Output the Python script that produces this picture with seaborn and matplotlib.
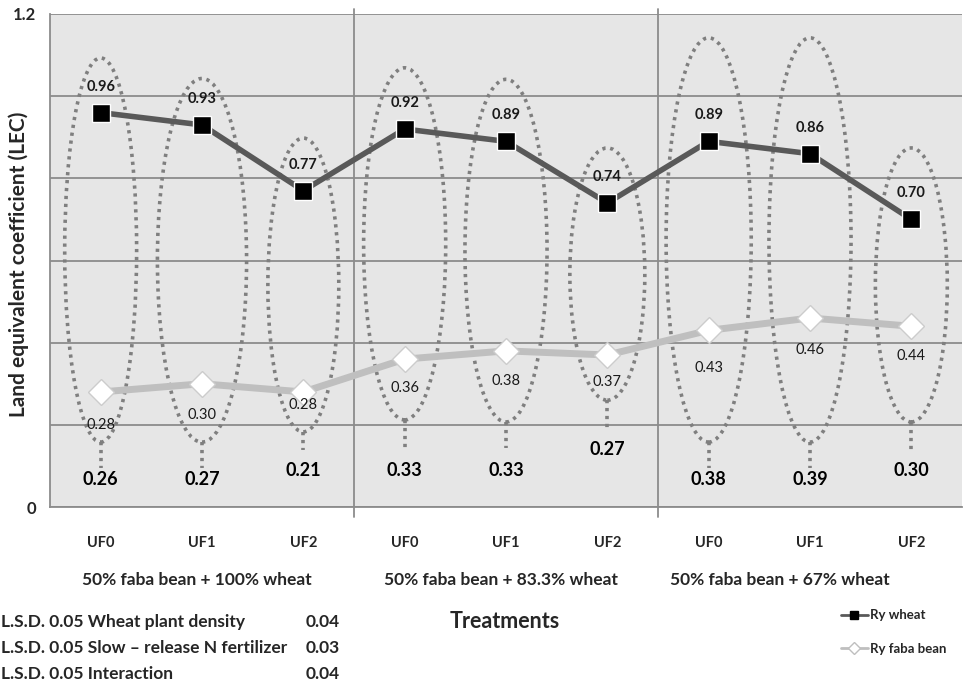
import numpy as np
import pandas as pd
import matplotlib
matplotlib.use("Agg")
import matplotlib.pyplot as plt
from matplotlib.patches import Ellipse
from matplotlib.lines import Line2D
import seaborn as sns

# data
treatments = ["UF0", "UF1", "UF2", "UF0", "UF1", "UF2", "UF0", "UF1", "UF2"]
groups = ["50% faba bean + 100% wheat",
          "50% faba bean + 83.3% wheat",
          "50% faba bean + 67% wheat"]
ry_wheat = [0.96, 0.93, 0.77, 0.92, 0.89, 0.74, 0.89, 0.86, 0.70]
ry_faba = [0.28, 0.30, 0.28, 0.36, 0.38, 0.37, 0.43, 0.46, 0.44]
lec = [0.26, 0.27, 0.21, 0.33, 0.33, 0.27, 0.38, 0.39, 0.30]
lsd_names = ["L.S.D. 0.05 Wheat plant density",
             "L.S.D. 0.05 Slow \u2013 release N fertilizer",
             "L.S.D. 0.05 Interaction"]
lsd_values = ["0.04", "0.03", "0.04"]

# callout ovals (annotation shapes, in data units)
oval_top = [1.093, 1.043, 0.898, 1.069, 1.041, 0.874, 1.142, 1.142, 0.874]
oval_bottom = [0.158, 0.158, 0.183, 0.212, 0.207, 0.260, 0.158, 0.158, 0.207]
oval_width = [0.71, 0.88, 0.70, 0.81, 0.81, 0.74, 0.84, 0.81, 0.71]
tail_end = [0.095, 0.095, 0.139, 0.144, 0.144, 0.192, 0.095, 0.095, 0.139]
lec_label_y = [0.066, 0.066, 0.090, 0.090, 0.090, 0.139, 0.066, 0.066, 0.090]
faba_offset = [-33, -31, -13, -29, -30, -27, -38, -32, -30]
group_centers = [0.95, 3.95, 6.7]

pos = np.arange(len(treatments))
df = pd.DataFrame({"pos": pos, "wheat": ry_wheat, "faba": ry_faba})

sns.set_style("white", {"axes.facecolor": "#e6e6e6"})
plt.rcParams["font.family"] = ["Lato", "DejaVu Sans"]

fig = plt.figure(figsize=(9.66, 6.85), dpi=100)
ax = fig.add_axes([50 / 966, 178 / 685, 912 / 966, 493 / 685])

# callouts
for i in range(len(pos)):
    h = oval_top[i] - oval_bottom[i]
    ax.add_patch(Ellipse((pos[i], oval_bottom[i] + h / 2), oval_width[i], h,
                         fill=False, ec="#7f7f7f", lw=2.6,
                         ls=(0, (0.9, 1.3)), zorder=1.5))
    ax.plot([pos[i], pos[i]], [oval_bottom[i], tail_end[i]], color="#7f7f7f",
            lw=2.6, ls=(0, (0.9, 1.3)), zorder=1.5)
    ax.text(pos[i], lec_label_y[i], f"{lec[i]:.2f}", ha="center", va="center",
            fontsize=13, fontweight="bold", color="black", zorder=5)

sns.lineplot(data=df, x="pos", y="wheat", ax=ax, color="#595959", lw=4,
             marker="s", markersize=13, markerfacecolor="black",
             markeredgecolor="white", markeredgewidth=1, zorder=4)
sns.lineplot(data=df, x="pos", y="faba", ax=ax, color="#bfbfbf", lw=5,
             marker="D", markersize=13, markerfacecolor="white",
             markeredgecolor="#cccccc", markeredgewidth=1, zorder=4)

for i in range(len(pos)):
    ax.annotate(f"{ry_wheat[i]:.2f}", (pos[i], ry_wheat[i]), xytext=(0, 26),
                textcoords="offset pixels", ha="center", va="center",
                fontsize=10.5, fontweight="bold", color="#1a1a1a", zorder=5)
    ax.annotate(f"{ry_faba[i]:.2f}", (pos[i], ry_faba[i]),
                xytext=(0, faba_offset[i]), textcoords="offset pixels",
                ha="center", va="center", fontsize=10.5, color="#1a1a1a",
                zorder=5)

ax.set_xlim(-0.5, 8.5)
ax.set_ylim(0, 1.2)
ax.set_yticks(np.arange(0, 1.21, 0.2))
ax.set_yticklabels(["0", "", "", "", "", "", "1.2"])
ax.set_xticks(pos)
ax.set_xticklabels(treatments)
ax.set_xticks(np.arange(-0.5, 9, 1), minor=True)
ax.tick_params(axis="x", which="major", length=0, pad=21, labelsize=10.5)
ax.tick_params(axis="x", which="minor", length=7, color="#8c8c8c", width=1.3)
ax.tick_params(axis="y", length=6, color="#8c8c8c", width=1.3, pad=4,
               labelsize=12)
ax.grid(axis="y", color="#8c8c8c", lw=1.3)
ax.set_axisbelow(True)
for x in [2.5, 5.5]:
    ax.axvline(x, color="#8c8c8c", lw=1.3, ymin=-0.02, ymax=1.01,
               clip_on=False, zorder=1)
for s in ["top", "right"]:
    ax.spines[s].set_visible(False)
for s in ["left", "bottom"]:
    ax.spines[s].set_color("#8c8c8c")
    ax.spines[s].set_linewidth(1.3)
ax.set_xlabel("")
ax.set_ylabel("")
fig.text(19 / 966, 1 - 264 / 685, "Land equivalent coefficient (LEC)",
         rotation=90, ha="center", va="center", fontsize=15,
         fontweight="bold")

for c, g in zip(group_centers, groups):
    ax.annotate(g, (c, 0), xytext=(0, -73), textcoords="offset pixels",
                ha="center", va="center", fontsize=12.5, fontweight="bold",
                annotation_clip=False)

fig.text(505 / 966, 1 - 622 / 685, "Treatments", ha="center", va="center",
         fontsize=15.5, fontweight="bold")
for k in range(3):
    y = 1 - (622 + k * 26) / 685
    fig.text(1 / 966, y, lsd_names[k], ha="left", va="center",
             fontsize=12.5, fontweight="bold")
    fig.text(323 / 966, y, lsd_values[k], ha="center", va="center",
             fontsize=12.5, fontweight="bold")

handles = [Line2D([], [], color="#595959", lw=2, marker="s", markersize=6,
                  markerfacecolor="black", markeredgecolor="black"),
           Line2D([], [], color="#bfbfbf", lw=2, marker="D", markersize=6,
                  markerfacecolor="white", markeredgecolor="#bfbfbf")]
fig.legend(handles, ["Ry wheat", "Ry faba bean"], loc="center left",
           bbox_to_anchor=(836 / 966, 1 - 632 / 685), frameon=False,
           handlelength=2.0, handletextpad=0.2, labelspacing=1.6,
           borderaxespad=0, prop={"weight": "bold", "size": 9.5})

# bold tick labels, set last so nothing resets them
plt.setp(ax.get_xticklabels() + ax.get_yticklabels(), fontweight="bold")

fig.savefig("out.png", dpi=100)
